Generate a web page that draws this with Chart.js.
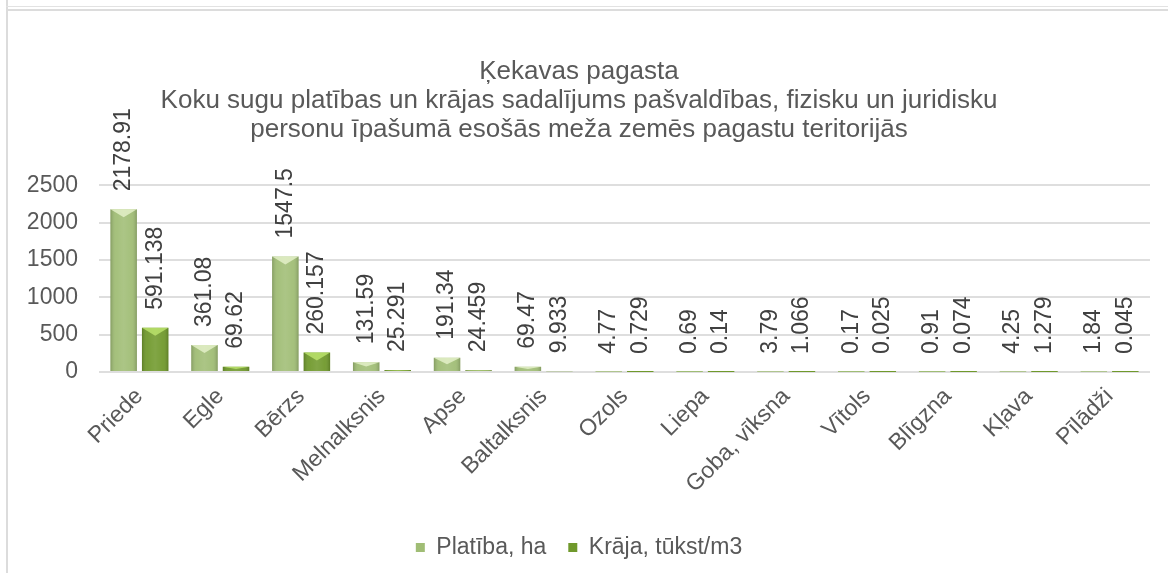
<!DOCTYPE html>
<html lang="lv">
<head>
<meta charset="UTF-8">
<title>Ķekavas pagasta koku sugas</title>
<script src="https://cdn.jsdelivr.net/npm/chart.js"></script>
<style>
  body { margin: 0; background: #fff; width: 1168px; height: 573px; overflow: hidden; position: relative; }
  .ln { position: absolute; background: #dcdcdc; }
  #chart { position: absolute; left: 8px; top: 11px; }
</style>
</head>
<body>
<div class="ln" style="left:6px;top:0;width:2px;height:573px"></div>
<div class="ln" style="left:6px;top:6px;width:1162px;height:1px;background:#e2e2e2"></div>
<div class="ln" style="left:6px;top:9px;width:1162px;height:2px"></div>
<canvas id="chart" width="1160" height="562"></canvas>

<script>
// kategorijas un vērtības
const sugas = ['Priede', 'Egle', 'Bērzs', 'Melnalksnis', 'Apse', 'Baltalksnis', 'Ozols',
               'Liepa', 'Goba, vīksna', 'Vītols', 'Blīgzna', 'Kļava', 'Pīlādži'];
const platiba = [2178.91, 361.08, 1547.5, 131.59, 191.34, 69.47, 4.77, 0.69, 3.79, 0.17, 0.91, 4.25, 1.84];
const kraja = [591.138, 69.62, 260.157, 25.291, 24.459, 9.933, 0.729, 0.14, 1.066, 0.025, 0.074, 1.279, 0.045];
const yTicks = [0, 500, 1000, 1500, 2000, 2500];

const FONT = "'Liberation Sans', Arial, sans-serif";
const GREY = '#595959';

// stabiņu "slīpuma" efekts kā Excel
const bevelPlugin = {
    id: 'bevel',
    afterDatasetDraw(chart, args) {
        const ctx = chart.ctx;
        const meta = args.meta;
        const light = args.index === 0 ? 'rgba(235,245,210,0.75)' : 'rgba(190,230,110,0.8)';
        meta.data.forEach(bar => {
            const left = bar.x - bar.width / 2;
            const h = bar.base - bar.y;
            if (h <= 0) return;
            ctx.save();
            const g = ctx.createLinearGradient(left, 0, left + bar.width, 0);
            g.addColorStop(0, 'rgba(0,0,0,0.18)');
            g.addColorStop(0.2, 'rgba(255,255,255,0.05)');
            g.addColorStop(0.5, 'rgba(255,255,255,0.12)');
            g.addColorStop(0.8, 'rgba(255,255,255,0.05)');
            g.addColorStop(1, 'rgba(0,0,0,0.18)');
            ctx.fillStyle = g;
            ctx.fillRect(left, bar.y, bar.width, h);
            const t = Math.min(8, h / 2);
            ctx.fillStyle = light;
            ctx.beginPath();
            ctx.moveTo(left, bar.y);
            ctx.lineTo(left + bar.width, bar.y);
            ctx.lineTo(left + bar.width / 2, bar.y + t);
            ctx.closePath();
            ctx.fill();
            ctx.restore();
        });
    }
};

// vertikālās datu etiķetes virs stabiņiem
const labelPlugin = {
    id: 'vertLabels',
    afterDatasetsDraw(chart) {
        const ctx = chart.ctx;
        chart.data.datasets.forEach((ds, i) => {
            chart.getDatasetMeta(i).data.forEach((bar, j) => {
                ctx.save();
                ctx.translate(bar.x, bar.y - 18);
                ctx.rotate(-Math.PI / 2);
                ctx.font = '23px ' + FONT;
                ctx.fillStyle = '#404040';
                ctx.textAlign = 'left';
                ctx.textBaseline = 'middle';
                ctx.fillText(String(ds.data[j]), 0, 0);
                ctx.restore();
            });
        });
    }
};

new Chart(document.getElementById('chart'), {
    type: 'bar',
    data: {
        labels: sugas,
        datasets: [
            { label: 'Platība, ha', data: platiba, backgroundColor: '#a0bd75' },
            { label: 'Krāja, tūkst/m3', data: kraja, backgroundColor: '#70992c' }
        ]
    },
    options: {
        responsive: false,
        animation: false,
        categoryPercentage: 0.78,
        barPercentage: 0.84,
        layout: { padding: { left: 0, right: 18, top: 0, bottom: 4 } },
        plugins: {
            title: {
                display: true,
                text: ['Ķekavas pagasta',
                       'Koku sugu platības un krājas sadalījums pašvaldības, fizisku un juridisku',
                       'personu īpašumā esošās meža zemēs pagastu teritorijās'],
                color: GREY,
                font: { family: FONT, size: 26, weight: 'normal', lineHeight: 1.12 },
                padding: { top: 46, bottom: 41 }
            },
            legend: {
                position: 'bottom',
                labels: {
                    color: GREY,
                    font: { family: FONT, size: 23 },
                    boxWidth: 9,
                    boxHeight: 9,
                    padding: 22
                }
            },
            tooltip: { enabled: false }
        },
        scales: {
            x: {
                grid: { display: false },
                border: { display: false },
                ticks: {
                    color: GREY,
                    font: { family: FONT, size: 23 },
                    minRotation: 45,
                    maxRotation: 45,
                    autoSkip: false
                },
                afterFit(s) { s.height = 142; }
            },
            y: {
                min: yTicks[0],
                max: yTicks[yTicks.length - 1],
                afterBuildTicks(s) { s.ticks = yTicks.map(v => ({ value: v })); },
                grid: { color: '#dedede', lineWidth: 2, drawTicks: false },
                border: { display: false },
                ticks: {
                    color: GREY,
                    font: { family: FONT, size: 23 },
                    padding: 21,
                    callback: v => String(v)
                },
                afterFit(s) { s.width = 91; }
            }
        }
    },
    plugins: [bevelPlugin, labelPlugin]
});
</script>
</body>
</html>
